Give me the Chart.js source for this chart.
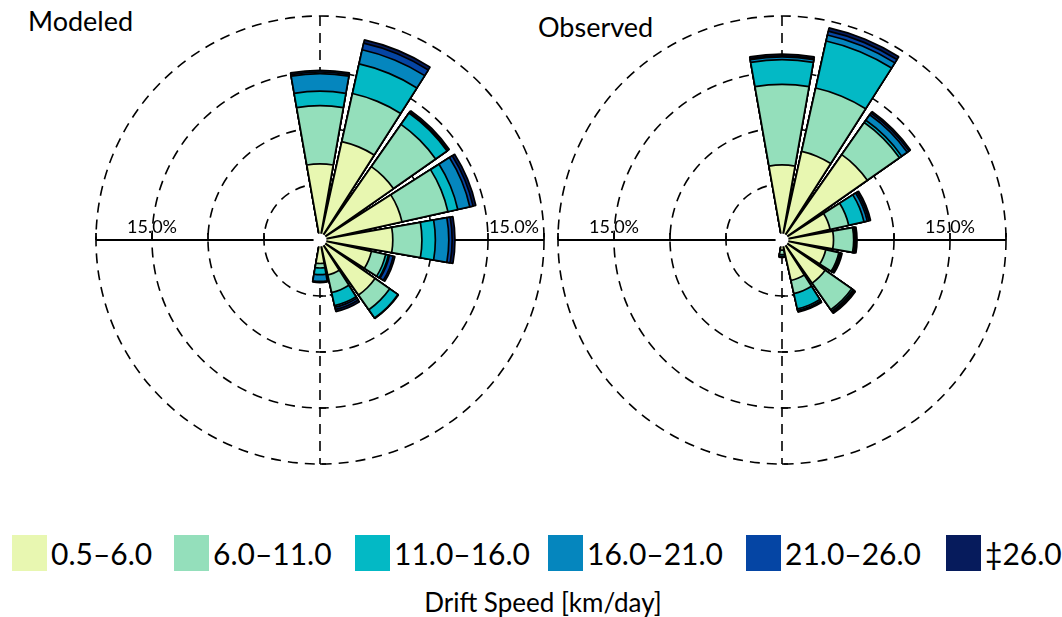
<!DOCTYPE html>
<html>
<head>
<meta charset="utf-8">
<script src="https://cdn.jsdelivr.net/npm/chart.js@4.4.1/dist/chart.umd.min.js"></script>
<style>
  body { margin: 0; background: #fff; width: 1062px; height: 617px; position: relative; overflow: hidden; font-family: Lato, "Open Sans", sans-serif; color: #000; }
  .panel { position: absolute; top: 10px; width: 460px; height: 460px; }
  .title { position: absolute; font-size: 27px; line-height: 1; }
  .legend-item { position: absolute; top: 535px; height: 36px; display: flex; align-items: center; }
  .legend-box { width: 35px; height: 36px; margin-right: 4px; }
  .legend-text { font-size: 30px; line-height: 1; }
  #legendTitle { position: absolute; top: 589px; left: 0; width: 1086px; text-align: center; font-size: 26px; line-height: 1; }
</style>
</head>
<body>
<div class="title" style="left:28px; top:7px;">Modeled</div>
<div class="title" style="left:538px; top:13px;">Observed</div>
<div class="panel" style="left:90px;"><canvas id="modeledChart"></canvas></div>
<div class="panel" style="left:552px;"><canvas id="observedChart"></canvas></div>
<div id="legend"></div>
<div id="legendTitle">Drift Speed [km/day]</div>

<script>
// Direções (sentido horário a partir do norte)
const directions = ["N", "NNE", "NE", "ENE", "E", "ESE", "SE", "SSE", "S", "SSW", "SW", "WSW", "W", "WNW", "NW", "NNW"];

// Classes de velocidade e cores
const speedClasses = ["0.5–6.0", "6.0–11.0", "11.0–16.0", "16.0–21.0", "21.0–26.0", "‡26.0"];
const speedColors = ["#e8f7b1", "#94dfbb", "#03b9c5", "#0586be", "#0545a4", "#061b5c"];

// Frequência (%) por direção - Modeled
const modeled0 = [6.8, 9.0, 8.0, 7.5, 6.5, 4.7, 6.0, 3.2, 2.1, 0, 0, 0, 0, 0, 0, 0];
const modeled1 = [5.2, 4.4, 4.6, 4.2, 2.6, 1.3, 1.6, 1.6, 0.4, 0, 0, 0, 0, 0, 0, 0];
const modeled2 = [1.3, 2.7, 1.25, 0.9, 1.2, 0.25, 0.9, 1.2, 0.6, 0, 0, 0, 0, 0, 0, 0];
const modeled3 = [1.55, 1.3, 0.0, 1.1, 1.2, 0.1, 0.0, 0.15, 0.6, 0, 0, 0, 0, 0, 0, 0];
const modeled4 = [0.15, 0.6, 0.1, 0.3, 0.3, 0.35, 0.0, 0.2, 0.05, 0, 0, 0, 0, 0, 0, 0];
const modeled5 = [0.15, 0.3, 0.15, 0.25, 0.25, 0.15, 0.05, 0.2, 0.05, 0, 0, 0, 0, 0, 0, 0];

// Frequência (%) por direção - Observed
const observed0 = [6.7, 8.1, 9.3, 4.4, 4.6, 4.0, 4.7, 3.7, 0.9, 0, 0, 0, 0, 0, 0, 0];
const observed1 = [7.2, 5.8, 3.5, 1.7, 1.8, 1.2, 2.9, 1.2, 0.4, 0, 0, 0, 0, 0, 0, 0];
const observed2 = [2.2, 4.3, 0.25, 1.4, 0.1, 0.1, 0.15, 1.4, 0.15, 0, 0, 0, 0, 0, 0, 0];
const observed3 = [0.25, 0.55, 0.6, 0.3, 0.05, 0.05, 0.05, 0.15, 0.05, 0, 0, 0, 0, 0, 0, 0];
const observed4 = [0.1, 0.35, 0.2, 0.15, 0.05, 0.05, 0.1, 0.05, 0.0, 0, 0, 0, 0, 0, 0, 0];
const observed5 = [0.15, 0.3, 0.15, 0.15, 0.1, 0.1, 0.1, 0.1, 0.05, 0, 0, 0, 0, 0, 0, 0];

// Eixo radial
const radialMax = 20;
const radialStep = 5;
const axisLabel = "15.0%";

const petalAngle = 20;
const gapAngle = 22.5 - petalAngle;
const dashPattern = [10, 7];

// Plugin: eixos, rótulos de 15% e círculo branco central
const roseAxes = {
  id: "roseAxes",
  beforeDatasetsDraw(chart, args, opts) {
    const scale = chart.scales.r;
    const ctx = chart.ctx;
    const cx = scale.xCenter, cy = scale.yCenter, R = scale.drawingArea;
    ctx.save();
    ctx.strokeStyle = "#000";

    // linha horizontal contínua
    ctx.lineWidth = 1.8;
    ctx.beginPath();
    ctx.moveTo(cx - R, cy);
    ctx.lineTo(cx + R, cy);
    for (let v = radialStep; v <= radialMax; v += radialStep) {
      const d = scale.getDistanceFromCenterForValue(v);
      ctx.moveTo(cx - d, cy); ctx.lineTo(cx - d, cy - 7);
      ctx.moveTo(cx + d, cy); ctx.lineTo(cx + d, cy - 7);
    }
    ctx.stroke();

    // linha vertical tracejada
    ctx.lineWidth = 1.6;
    ctx.setLineDash(dashPattern);
    ctx.beginPath();
    ctx.moveTo(cx, cy - R);
    ctx.lineTo(cx, cy + R);
    ctx.stroke();
    ctx.setLineDash([]);
    ctx.beginPath();
    for (let v = radialStep; v <= radialMax; v += radialStep) {
      const d = scale.getDistanceFromCenterForValue(v);
      ctx.moveTo(cx, cy + d); ctx.lineTo(cx + 6, cy + d);
    }
    ctx.stroke();

    // rótulos
    ctx.fillStyle = "#000";
    ctx.font = "18px Lato, 'Open Sans', sans-serif";
    ctx.textAlign = "center";
    ctx.textBaseline = "alphabetic";
    const d15 = scale.getDistanceFromCenterForValue(15);
    ctx.fillText(axisLabel, cx - d15 + opts.leftShift, cy - 7);
    ctx.fillText(axisLabel, cx + d15 + opts.rightShift, cy - 7);
    ctx.restore();
  },
  afterDatasetsDraw(chart) {
    const scale = chart.scales.r;
    const ctx = chart.ctx;
    ctx.save();
    ctx.fillStyle = "#fff";
    ctx.beginPath();
    ctx.arc(scale.xCenter, scale.yCenter, 6.5, 0, Math.PI * 2);
    ctx.fill();
    ctx.restore();
  }
};

// Monta os datasets acumulados (uma pétala + um espaço por direção)
function buildDatasets(bands) {
  const cumulative = directions.map(() => 0);
  return bands.map((band, k) => {
    const data = [];
    directions.forEach((dir, i) => {
      cumulative[i] += band[i];
      data.push(+cumulative[i].toFixed(3));
      data.push(0);
    });
    return {
      label: speedClasses[k],
      data: data,
      backgroundColor: speedColors[k],
      borderColor: "#000",
      borderWidth: (c) => (c.raw > 0 ? 1.7 : 0),
      angle: (c) => (c.dataIndex % 2 === 0 ? petalAngle : gapAngle)
    };
  });
}

function createRose(canvasId, bands, leftShift, rightShift) {
  const labels = [];
  directions.forEach((d) => { labels.push(d); labels.push(""); });
  new Chart(document.getElementById(canvasId), {
    type: "polarArea",
    data: { labels: labels, datasets: buildDatasets(bands) },
    options: {
      responsive: true,
      maintainAspectRatio: false,
      animation: false,
      events: [],
      layout: { padding: 6 },
      scales: {
        r: {
          min: 0,
          max: radialMax,
          startAngle: -petalAngle / 2,
          ticks: { display: false, stepSize: radialStep },
          grid: { color: "#000", lineWidth: 1.6, circular: true },
          border: { dash: dashPattern },
          angleLines: { display: false },
          pointLabels: { display: false }
        }
      },
      plugins: {
        legend: { display: false },
        tooltip: { enabled: false },
        roseAxes: { leftShift: leftShift, rightShift: rightShift }
      }
    },
    plugins: [roseAxes]
  });
}

createRose("modeledChart", [modeled0, modeled1, modeled2, modeled3, modeled4, modeled5], 0, 26);
createRose("observedChart", [observed0, observed1, observed2, observed3, observed4, observed5], 0, 0);

// Legenda
const legendX = [12, 174, 355, 548, 746, 946];
const legend = document.getElementById("legend");
speedClasses.forEach((name, k) => {
  const item = document.createElement("div");
  item.className = "legend-item";
  item.style.left = legendX[k] + "px";
  item.innerHTML = `<div class="legend-box" style="background:${speedColors[k]}"></div><span class="legend-text">${name}</span>`;
  legend.appendChild(item);
});
</script>
</body>
</html>
